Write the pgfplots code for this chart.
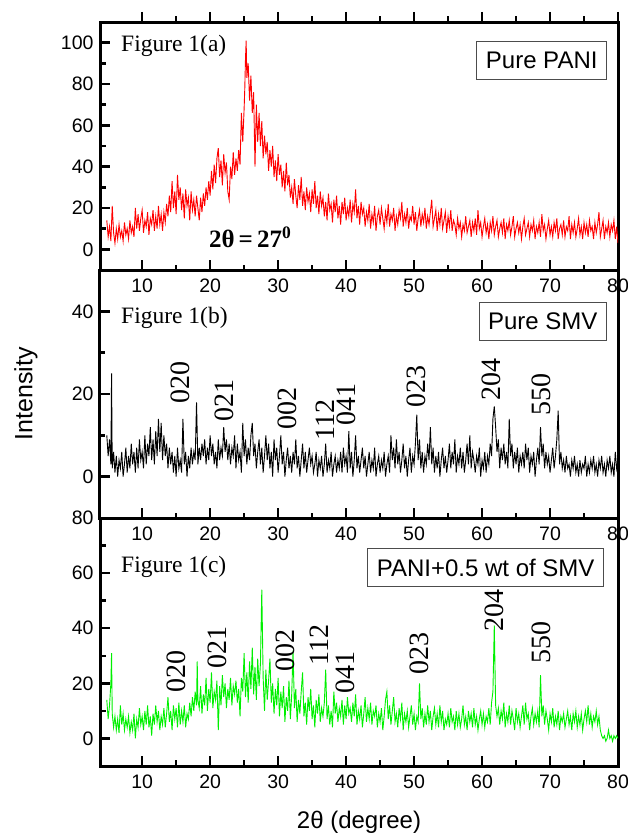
\documentclass[border=0pt]{standalone}
\usepackage{fontspec}
\setmainfont{Liberation Sans}
\newfontfamily\tnr{Liberation Serif}
\usepackage{pgfplots}
\usepackage{pgfplotstable}
\pgfplotsset{compat=1.18}
\definecolor{xgreen}{RGB}{0,240,0}

% PANI
\pgfplotstableread[row sep=\\]{x y\\
4.8 14\\5.0 6\\5.2 11\\5.4 4\\5.6 21\\5.8 8\\6.0 3\\6.2 10\\6.4 5\\6.6 12\\6.8 6\\7.0 9\\7.2 4\\7.4 13\\7.6 7\\7.8 10\\8.0 5\\8.2 14\\8.4 8\\8.6 11\\8.8 6\\
9.0 20\\9.2 10\\9.4 17\\9.6 9\\9.8 15\\10.0 19\\10.2 8\\10.4 14\\10.6 11\\10.8 18\\11.0 7\\11.2 15\\11.4 12\\11.6 19\\11.8 9\\12.0 16\\12.2 10\\12.4 21\\12.6 12\\12.8 17\\13.0 9\\13.2 18\\13.4 13\\
13.6 22\\13.8 16\\14.0 26\\14.2 18\\14.4 33\\14.6 20\\14.8 28\\15.0 17\\15.2 36\\15.4 24\\15.6 30\\15.8 19\\16.0 27\\16.2 15\\16.4 29\\16.6 21\\16.8 25\\17.0 14\\17.2 28\\17.4 19\\17.6 24\\17.8 16\\18.0 26\\18.2 20\\18.4 14\\18.6 25\\18.8 18\\
19.0 27\\19.2 21\\19.4 30\\19.6 24\\19.8 33\\20.0 26\\20.2 38\\20.4 29\\20.6 41\\20.8 32\\21.0 44\\21.2 49\\21.4 35\\21.6 43\\21.8 31\\22.0 46\\22.2 37\\22.4 42\\22.6 28\\22.8 24\\23.0 40\\23.2 34\\23.4 47\\23.6 36\\23.8 44\\24.0 38\\24.2 48\\24.4 41\\24.6 66\\24.8 52\\
25.0 68\\25.1 78\\25.2 92\\25.3 101\\25.4 83\\25.6 90\\25.8 72\\26.0 84\\26.2 66\\26.4 76\\26.6 40\\26.8 70\\27.0 52\\27.2 66\\27.4 50\\27.6 62\\27.8 44\\28.0 55\\28.2 46\\28.4 52\\28.6 38\\28.8 48\\29.0 40\\29.2 50\\29.4 35\\29.6 43\\29.8 33\\30.0 46\\30.2 36\\30.4 41\\30.6 30\\30.8 38\\31.0 28\\31.2 42\\31.4 31\\31.6 36\\31.8 25\\
32.0 30\\32.2 22\\32.4 34\\32.6 26\\32.8 20\\33.0 31\\33.2 24\\33.4 35\\33.6 21\\33.8 28\\34.0 19\\34.2 30\\34.4 23\\34.6 27\\34.8 18\\35.0 29\\35.2 22\\35.4 33\\35.6 20\\35.8 26\\36.0 17\\36.2 28\\36.4 21\\
36.6 25\\36.8 16\\37.0 23\\37.2 14\\37.4 27\\37.6 19\\37.8 22\\38.0 13\\38.2 24\\38.4 18\\38.6 26\\38.8 15\\39.0 21\\39.2 12\\39.4 23\\39.6 17\\39.8 25\\40.0 14\\40.2 20\\40.4 16\\40.6 24\\40.8 13\\41.0 22\\41.2 18\\41.4 29\\41.6 15\\41.8 21\\42.0 12\\42.2 23\\42.4 17\\
42.6 20\\42.8 11\\43.0 18\\43.2 14\\43.4 22\\43.6 10\\43.8 17\\44.0 13\\44.2 21\\44.4 9\\44.6 16\\44.8 19\\45.0 12\\45.2 20\\45.4 15\\45.6 10\\45.8 18\\46.0 13\\46.2 22\\46.4 11\\46.6 17\\46.8 14\\47.0 20\\47.2 9\\47.4 16\\47.6 12\\47.8 19\\48.0 15\\48.2 23\\48.4 11\\48.6 17\\48.8 13\\49.0 20\\49.2 10\\49.4 16\\49.6 14\\49.8 21\\
50.0 12\\50.2 18\\50.4 9\\50.6 15\\50.8 19\\51.0 11\\51.2 17\\51.4 13\\51.6 20\\51.8 10\\52.0 16\\52.2 12\\52.4 18\\52.6 24\\52.8 11\\53.0 15\\53.2 19\\53.4 9\\53.6 17\\53.8 12\\54.0 20\\54.2 10\\54.4 14\\54.6 18\\54.8 8\\55.0 16\\55.2 11\\55.4 19\\55.6 9\\55.8 14\\
56.0 12\\56.2 7\\56.4 15\\56.6 10\\56.8 13\\57.0 6\\57.2 12\\57.4 9\\57.6 16\\57.8 8\\58.0 11\\58.2 14\\58.4 6\\58.6 13\\58.8 9\\59.0 15\\59.2 7\\59.4 19\\59.6 10\\59.8 13\\60.0 6\\60.2 11\\60.4 15\\60.6 8\\60.8 12\\61.0 5\\61.2 13\\61.4 9\\61.6 16\\61.8 7\\62.0 11\\62.2 14\\62.4 6\\62.6 10\\62.8 13\\63.0 8\\63.2 15\\63.4 5\\63.6 12\\63.8 9\\
64.0 14\\64.2 7\\64.4 11\\64.6 16\\64.8 6\\65.0 10\\65.2 13\\65.4 8\\65.6 12\\65.8 5\\66.0 11\\66.2 15\\66.4 7\\66.6 10\\66.8 13\\67.0 6\\67.2 12\\67.4 9\\67.6 14\\67.8 5\\68.0 11\\68.2 8\\68.4 13\\68.6 6\\68.8 17\\69.0 9\\69.2 12\\69.4 5\\69.6 10\\69.8 14\\70.0 7\\70.2 11\\70.4 6\\70.6 13\\70.8 9\\71.0 15\\71.2 5\\71.4 10\\71.6 12\\71.8 7\\
72.0 14\\72.2 6\\72.4 11\\72.6 9\\72.8 16\\73.0 5\\73.2 12\\73.4 8\\73.6 13\\73.8 6\\74.0 10\\74.2 15\\74.4 7\\74.6 11\\74.8 5\\75.0 13\\75.2 8\\75.4 12\\75.6 6\\75.8 14\\76.0 9\\76.2 11\\76.4 5\\76.6 13\\76.8 8\\77.0 12\\77.2 18\\77.4 6\\77.6 10\\77.8 14\\78.0 5\\78.2 11\\78.4 8\\78.6 13\\78.8 6\\79.0 12\\79.2 9\\79.4 14\\79.6 5\\79.8 11\\80.0 3\\
}\pani

% SMV
\pgfplotstableread[row sep=\\]{x y\\
4.8 10\\5.0 5\\5.2 9\\5.4 3\\5.5 25\\5.6 2\\5.8 6\\6.0 1\\6.2 5\\6.4 0\\6.6 4\\6.8 2\\7.0 6\\7.2 0\\7.4 3\\7.6 7\\7.8 1\\8.0 5\\8.2 2\\8.4 8\\8.6 3\\8.8 6\\9.0 1\\9.2 7\\9.4 2\\9.6 9\\9.8 4\\
10.0 6\\10.2 2\\10.4 10\\10.6 3\\10.8 8\\11.0 5\\11.2 12\\11.4 4\\11.6 9\\11.8 3\\12.0 11\\12.2 5\\12.4 14\\12.6 6\\12.8 13\\13.0 4\\13.2 10\\13.4 5\\13.6 8\\13.8 2\\14.0 7\\14.2 3\\14.4 6\\14.6 1\\14.8 5\\15.0 0\\15.2 7\\15.4 2\\15.6 4\\15.8 1\\
16.0 14\\16.2 3\\16.4 6\\16.6 0\\16.8 5\\17.0 2\\17.2 7\\17.4 3\\17.6 6\\17.8 4\\18.0 18\\18.2 3\\18.4 7\\18.6 4\\18.8 8\\19.0 5\\19.2 9\\19.4 3\\19.6 7\\19.8 4\\20.0 10\\20.2 5\\20.4 8\\20.6 3\\20.8 6\\21.0 2\\21.2 9\\21.4 4\\21.6 7\\21.8 5\\
22.0 12\\22.2 6\\22.4 9\\22.6 4\\22.8 8\\23.0 3\\23.2 7\\23.4 5\\23.6 10\\23.8 2\\24.0 8\\24.2 4\\24.4 6\\24.6 1\\24.8 13\\25.0 5\\25.2 9\\25.4 3\\25.6 7\\25.8 4\\26.0 10\\26.2 13\\26.4 5\\26.6 8\\26.8 2\\27.0 6\\27.2 9\\27.4 3\\27.6 7\\27.8 1\\
28.0 5\\28.2 10\\28.4 4\\28.6 8\\28.8 2\\29.0 6\\29.2 0\\29.4 9\\29.6 4\\29.8 7\\30.0 1\\30.2 5\\30.4 10\\30.6 3\\30.8 6\\31.0 0\\31.2 4\\31.4 7\\31.6 2\\31.8 5\\32.0 1\\32.2 6\\32.4 3\\32.6 9\\32.8 2\\33.0 5\\33.2 0\\33.4 4\\33.6 8\\33.8 2\\
34.0 6\\34.2 1\\34.4 4\\34.6 7\\34.8 3\\35.0 5\\35.2 1\\35.4 3\\35.6 6\\35.8 0\\36.0 4\\36.2 2\\36.4 5\\36.6 0\\36.8 3\\37.0 8\\37.2 1\\37.4 4\\37.6 2\\37.8 6\\38.0 0\\38.2 3\\38.4 5\\38.6 1\\38.8 4\\39.0 2\\39.2 6\\39.4 1\\39.6 7\\39.8 3\\
40.0 5\\40.2 1\\40.4 11\\40.6 2\\40.8 6\\41.0 0\\41.2 4\\41.4 10\\41.6 2\\41.8 5\\42.0 1\\42.2 4\\42.4 7\\42.6 2\\42.8 5\\43.0 0\\43.2 3\\43.4 6\\43.6 1\\43.8 4\\44.0 2\\44.2 7\\44.4 0\\44.6 3\\44.8 5\\45.0 1\\45.2 4\\45.4 2\\45.6 6\\45.8 0\\
46.0 3\\46.2 5\\46.4 1\\46.6 10\\46.8 4\\47.0 7\\47.2 2\\47.4 9\\47.6 3\\47.8 6\\48.0 1\\48.2 4\\48.4 8\\48.6 2\\48.8 5\\49.0 0\\49.2 4\\49.4 7\\49.6 1\\49.8 5\\50.0 3\\50.2 8\\50.4 15\\50.6 4\\50.8 9\\51.0 2\\51.2 6\\51.4 1\\51.6 5\\51.8 3\\
52.0 8\\52.2 4\\52.4 12\\52.6 3\\52.8 7\\53.0 1\\53.2 5\\53.4 2\\53.6 6\\53.8 0\\54.0 4\\54.2 7\\54.4 2\\54.6 5\\54.8 1\\55.0 4\\55.2 8\\55.4 2\\55.6 6\\55.8 3\\56.0 9\\56.2 1\\56.4 5\\56.6 3\\56.8 7\\57.0 2\\57.2 6\\57.4 1\\57.6 4\\57.8 8\\
58.0 3\\58.2 10\\58.4 2\\58.6 6\\58.8 4\\59.0 1\\59.2 5\\59.4 3\\59.6 7\\59.8 0\\60.0 4\\60.2 2\\60.4 6\\60.6 1\\60.8 5\\61.0 3\\61.2 8\\61.4 5\\61.6 14\\61.8 17\\62.0 12\\62.2 6\\62.4 9\\62.6 2\\62.8 7\\63.0 4\\63.2 8\\63.4 3\\63.6 6\\63.8 2\\
64.0 14\\64.2 5\\64.4 8\\64.6 2\\64.8 6\\65.0 3\\65.2 7\\65.4 1\\65.6 5\\65.8 3\\66.0 6\\66.2 2\\66.4 8\\66.6 4\\66.8 7\\67.0 1\\67.2 5\\67.4 3\\67.6 6\\67.8 0\\68.0 4\\68.2 7\\68.4 3\\68.6 12\\68.8 5\\69.0 8\\69.2 2\\69.4 6\\69.6 3\\69.8 5\\
70.0 1\\70.2 4\\70.4 7\\70.6 2\\70.8 5\\71.0 9\\71.2 16\\71.4 3\\71.6 6\\71.8 2\\72.0 4\\72.2 1\\72.4 5\\72.6 2\\72.8 3\\73.0 0\\73.2 4\\73.4 2\\73.6 5\\73.8 1\\74.0 3\\74.2 0\\74.4 4\\74.6 1\\74.8 3\\75.0 2\\75.2 5\\75.4 0\\75.6 3\\75.8 1\\
76.0 4\\76.2 2\\76.4 5\\76.6 1\\76.8 3\\77.0 0\\77.2 4\\77.4 2\\77.6 5\\77.8 1\\78.0 3\\78.2 0\\78.4 4\\78.6 2\\78.8 5\\79.0 1\\79.2 3\\79.4 0\\79.6 6\\79.8 2\\80.0 4\\
}\smv

% PANI + 0.5 wt SMV
\pgfplotstableread[row sep=\\]{x y\\
4.8 14\\5.0 7\\5.2 12\\5.4 20\\5.5 31\\5.6 9\\5.8 4\\6.0 8\\6.2 3\\6.4 7\\6.6 2\\6.8 12\\7.0 5\\7.2 9\\7.4 3\\7.6 7\\7.8 4\\8.0 8\\8.2 2\\8.4 6\\8.6 3\\8.8 9\\9.0 0\\9.2 7\\9.4 4\\9.6 11\\9.8 5\\
10.0 8\\10.2 3\\10.4 10\\10.6 5\\10.8 12\\11.0 4\\11.2 8\\11.4 1\\11.6 9\\11.8 5\\12.0 12\\12.2 6\\12.4 10\\12.6 3\\12.8 8\\13.0 5\\13.2 11\\13.4 4\\13.6 9\\13.8 15\\14.0 6\\14.2 10\\14.4 3\\14.6 12\\14.8 7\\15.0 11\\15.2 4\\15.4 13\\15.6 5\\15.8 10\\
16.0 6\\16.2 12\\16.4 4\\16.6 9\\16.8 7\\17.0 13\\17.2 8\\17.4 15\\17.6 10\\17.8 17\\18.0 12\\18.1 28\\18.2 14\\18.4 11\\18.6 19\\18.8 9\\19.0 16\\19.2 12\\19.4 22\\19.6 10\\19.8 18\\20.0 13\\20.2 24\\20.4 11\\20.6 17\\20.8 14\\21.0 21\\21.2 3\\21.4 19\\21.6 12\\21.8 23\\
22.0 15\\22.2 20\\22.4 11\\22.6 18\\22.8 14\\23.0 22\\23.2 12\\23.4 19\\23.6 16\\23.8 21\\24.0 13\\24.2 18\\24.4 8\\24.6 22\\24.8 17\\25.0 31\\25.2 15\\25.4 24\\25.6 13\\25.8 28\\26.0 18\\26.2 33\\26.4 16\\26.6 26\\26.8 14\\27.0 29\\27.2 19\\27.4 27\\27.6 54\\27.8 22\\
28.0 10\\28.2 25\\28.4 14\\28.6 21\\28.8 29\\29.0 13\\29.2 20\\29.4 9\\29.6 18\\29.8 12\\30.0 22\\30.2 8\\30.4 17\\30.6 11\\30.8 19\\31.0 6\\31.2 15\\31.4 10\\31.6 21\\31.8 7\\32.0 16\\32.2 32\\32.4 11\\32.6 18\\32.8 6\\33.0 14\\33.2 9\\33.4 17\\33.6 24\\33.8 8\\
34.0 13\\34.2 5\\34.4 15\\34.6 10\\34.8 18\\35.0 7\\35.2 12\\35.4 4\\35.6 14\\35.8 9\\36.0 16\\36.2 6\\36.4 11\\36.6 8\\36.8 13\\37.0 25\\37.2 7\\37.4 12\\37.6 5\\37.8 10\\38.0 4\\38.2 17\\38.4 9\\38.6 13\\38.8 6\\39.0 11\\39.2 8\\39.4 14\\39.6 5\\39.8 12\\
40.0 7\\40.2 15\\40.4 9\\40.6 11\\40.8 6\\41.0 13\\41.2 8\\41.4 16\\41.6 5\\41.8 10\\42.0 7\\42.2 12\\42.4 4\\42.6 9\\42.8 15\\43.0 6\\43.2 11\\43.4 7\\43.6 13\\43.8 5\\44.0 10\\44.2 8\\44.4 12\\44.6 4\\44.8 9\\45.0 6\\45.2 11\\45.4 3\\45.6 8\\45.8 14\\
46.0 17\\46.2 7\\46.4 12\\46.6 5\\46.8 10\\47.0 15\\47.2 6\\47.4 9\\47.6 4\\47.8 11\\48.0 7\\48.2 13\\48.4 3\\48.6 9\\48.8 6\\49.0 10\\49.2 4\\49.4 8\\49.6 12\\49.8 5\\50.0 9\\50.2 3\\50.4 8\\50.6 6\\50.8 20\\51.0 7\\51.2 11\\51.4 4\\51.6 9\\51.8 5\\
52.0 12\\52.2 6\\52.4 10\\52.6 3\\52.8 8\\53.0 11\\53.2 5\\53.4 9\\53.6 4\\53.8 12\\54.0 6\\54.2 10\\54.4 3\\54.6 7\\54.8 5\\55.0 9\\55.2 4\\55.4 11\\55.6 6\\55.8 8\\56.0 3\\56.2 10\\56.4 5\\56.6 9\\56.8 4\\57.0 7\\57.2 12\\57.4 5\\57.6 8\\57.8 3\\
58.0 10\\58.2 6\\58.4 9\\58.6 4\\58.8 11\\59.0 5\\59.2 8\\59.4 3\\59.6 7\\59.8 10\\60.0 5\\60.2 9\\60.4 4\\60.6 8\\60.8 6\\61.0 11\\61.2 5\\61.4 13\\61.6 17\\61.8 41\\62.0 12\\62.2 8\\62.4 11\\62.6 5\\62.8 10\\63.0 7\\63.2 13\\63.4 4\\63.6 9\\63.8 6\\
64.0 12\\64.2 5\\64.4 10\\64.6 7\\64.8 3\\65.0 11\\65.2 6\\65.4 9\\65.6 4\\65.8 8\\66.0 12\\66.2 5\\66.4 13\\66.6 7\\66.8 9\\67.0 3\\67.2 8\\67.4 11\\67.6 5\\67.8 9\\68.0 6\\68.2 10\\68.4 4\\68.6 23\\68.8 8\\69.0 12\\69.2 5\\69.4 10\\69.6 7\\69.8 3\\
70.0 9\\70.2 6\\70.4 11\\70.6 4\\70.8 8\\71.0 5\\71.2 10\\71.4 3\\71.6 8\\71.8 6\\72.0 9\\72.2 4\\72.4 7\\72.6 10\\72.8 5\\73.0 8\\73.2 3\\73.4 9\\73.6 6\\73.8 10\\74.0 4\\74.2 8\\74.4 5\\74.6 9\\74.8 3\\75.0 7\\75.2 10\\75.4 6\\75.6 12\\75.8 5\\
76.0 9\\76.2 4\\76.4 8\\76.6 6\\76.8 10\\77.0 5\\77.2 8\\77.4 3\\77.6 1\\77.8 0\\78.0 1\\78.2 -1\\78.4 0\\78.6 3\\78.8 0\\79.0 1\\79.2 -1\\79.4 1\\79.6 0\\79.8 1\\80.0 0\\
}\comp

\pgfplotsset{
  panel/.style={
    scale only axis, width=518pt, height=248pt,
    xmin=3.8, xmax=80,
    xtick={10,20,...,80}, minor x tick num=1,
    xtick pos=left, ytick pos=left,
    tick align=inside,
    major tick length=10pt, minor tick length=5.5pt,
    tick style={line width=2.5pt, black},
    axis line style={line width=3pt},
    ticklabel style={font=\fontsize{19.5}{20}\selectfont},
    /pgf/number format/assume math mode=true,
    xticklabel style={yshift=-5pt},
    yticklabel style={xshift=-3pt},
  },
}
\tikzset{
  lbl/.style={font=\tnr\fontsize{23.5}{24}\selectfont, anchor=base west},
  tag/.style={draw=black!70, line width=1pt, font=\fontsize{24}{26}\selectfont,
    inner xsep=9pt, minimum height=38pt, anchor=north east},
  hkl/.style={font=\tnr\fontsize{28}{30}\selectfont, rotate=90, anchor=center},
}

\begin{document}
\begin{tikzpicture}
\useasboundingbox (0pt,0pt) rectangle (628pt,-835pt);

% (a)
\begin{axis}[panel, at={(100pt,-22pt)}, anchor=north west,
  ymin=-10, ymax=110, ytick={0,20,...,100}, minor y tick num=1]
\addplot[red, line width=0.9pt] table[x=x, y=y] {\pani};
\node[lbl] at (axis cs:6.4,95.6) {Figure 1(a)};
\node[tag, xshift=-11pt, yshift=-19pt] at (rel axis cs:1,1) {Pure PANI};
\node[font=\tnr\bfseries\fontsize{25}{26}\selectfont, anchor=base] at (axis cs:25.9,1) {2θ\,=\,27\textsuperscript{0}};
\end{axis}
% outward ticks on top of (a)
\begin{axis}[scale only axis, width=518pt, height=248pt, at={(100pt,-22pt)}, anchor=north west,
  xmin=3.8, xmax=80, ymin=0, ymax=1,
  axis x line*=top, hide y axis, x axis line style={draw=none},
  xtick={10,20,...,80}, minor x tick num=1, xticklabels={},
  tick align=outside, major tick length=10pt, minor tick length=5.5pt,
  tick style={line width=2.5pt, black}]
\addplot[draw=none] coordinates {(5,0.5)};
\end{axis}

% (b)
\begin{axis}[panel, at={(100pt,-270pt)}, anchor=north west,
  ymin=-10, ymax=50, ytick={0,20,40}, minor y tick num=1,
  ylabel={Intensity},
  every axis y label/.style={at={(axis description cs:-0.143,0.5)}, rotate=90, anchor=center,
    font=\fontsize{25}{26}\selectfont}]
\addplot[black, line width=0.9pt] table[x=x, y=y] {\smv};
\node[lbl] at (axis cs:6.4,37.1) {Figure 1(b)};
\node[tag, xshift=-11pt, yshift=-32pt] at (rel axis cs:1,1) {Pure SMV};
\node[hkl] at (axis cs:15.6,22.8) {020};
\node[hkl] at (axis cs:22.1,18.5) {021};
\node[hkl] at (axis cs:31.3,16.6) {002};
\node[hkl] at (axis cs:36.9,13.6) {112};
\node[hkl] at (axis cs:40.1,17.5) {041};
\node[hkl] at (axis cs:50.4,21.8) {023};
\node[hkl] at (axis cs:61.4,23.6) {204};
\node[hkl] at (axis cs:68.7,19.8) {550};
\end{axis}

% (c)
\begin{axis}[panel, at={(100pt,-518pt)}, anchor=north west,
  ymin=-10, ymax=80, ytick={0,20,...,80}, minor y tick num=1,
  xlabel={2θ (degree)},
  every axis x label/.style={at={(axis description cs:0.5,0)}, anchor=center,
    yshift=-56pt, font=\fontsize{24}{26}\selectfont}]
\addplot[xgreen, line width=0.9pt] table[x=x, y=y] {\comp};
\node[lbl] at (axis cs:6.4,60.1) {Figure 1(c)};
\node[tag, xshift=-14pt, yshift=-30pt] at (rel axis cs:1,1) {PANI+0.5 wt of SMV};
\node[hkl] at (axis cs:15.1,24.2) {020};
\node[hkl] at (axis cs:21.0,33.0) {021};
\node[hkl] at (axis cs:31.0,31.8) {002};
\node[hkl] at (axis cs:36.0,34.0) {112};
\node[hkl] at (axis cs:39.9,24.0) {041};
\node[hkl] at (axis cs:50.7,31.0) {023};
\node[hkl] at (axis cs:61.8,46.5) {204};
\node[hkl] at (axis cs:68.7,35.0) {550};
\end{axis}
\end{tikzpicture}
\end{document}
